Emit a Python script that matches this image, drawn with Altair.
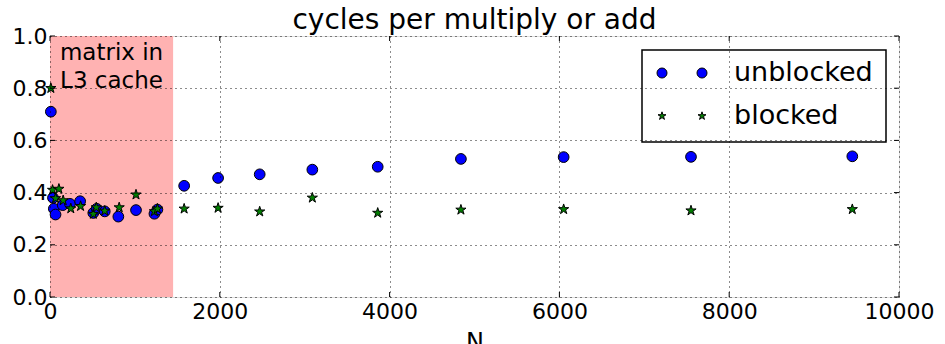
import altair as alt
import pandas as pd

# ---- data ----
N_unblocked = [10, 35, 45, 65, 150, 235, 355, 510, 550, 645, 805, 1013, 1230, 1265,
               1580, 1980, 2470, 3090, 3860, 4840, 6050, 7550, 9450]
unblocked = [0.71, 0.38, 0.338, 0.316, 0.352, 0.357, 0.367, 0.322, 0.338, 0.328, 0.308, 0.333, 0.319, 0.335,
             0.426, 0.456, 0.470, 0.488, 0.499, 0.529, 0.536, 0.537, 0.539]
N_blocked = [10, 30, 65, 105, 155, 245, 360, 510, 545, 645, 815, 1013, 1230, 1265,
             1580, 1980, 2470, 3090, 3860, 4840, 6050, 7550, 9450]
blocked = [0.80, 0.41, 0.378, 0.414, 0.370, 0.339, 0.348, 0.318, 0.343, 0.330, 0.343, 0.392, 0.328, 0.338,
           0.338, 0.341, 0.327, 0.380, 0.322, 0.334, 0.336, 0.331, 0.336]
cache_limit = [0, 1450]
x_ticks = [0, 2000, 4000, 6000, 8000, 10000]
y_ticks = [0.0, 0.2, 0.4, 0.6, 0.8, 1.0]
series_names = ["unblocked", "blocked"]
title_text = "cycles per multiply or add"
annotation = ["matrix in", "L3 cache"]

W, H = 849, 261
FONT = "DejaVu Sans"
STAR = ("M0,-1 L0.2245,-0.309 L0.951,-0.309 L0.363,0.118 L0.588,0.809 L0,0.382 "
        "L-0.588,0.809 L-0.363,0.118 L-0.951,-0.309 L-0.2245,-0.309 Z")

df_u = pd.DataFrame({"N": N_unblocked, "v": unblocked})
df_b = pd.DataFrame({"N": N_blocked, "v": blocked})
df_region = pd.DataFrame({"x0": [cache_limit[0]], "x1": [cache_limit[1]]})
df_xt = pd.DataFrame({"t": x_ticks})
df_yt = pd.DataFrame({"t": y_ticks})
df_one = pd.DataFrame({"a": [0]})

xs = alt.Scale(domain=[0, 10000], nice=False, zero=False)
ys = alt.Scale(domain=[0, 1], nice=False, zero=False)

xaxis = alt.Axis(values=x_ticks, format="d", grid=True, gridColor="black", gridDash=[1, 4],
                 gridWidth=1, gridOpacity=0.9, ticks=False, domain=False, labelFont=FONT,
                 labelFontSize=22, labelColor="black", labelPadding=4, title="N",
                 titleFont=FONT, titleFontSize=24, titleFontWeight="normal", titleColor="black",
                 titlePadding=8, zindex=1, labelFlush=False)
yaxis = alt.Axis(values=y_ticks, format=".1f", grid=True, gridColor="black", gridDash=[1, 4],
                 gridWidth=1, gridOpacity=0.9, ticks=False, domain=False, labelFont=FONT,
                 labelFontSize=22, labelColor="black", labelPadding=3, title=None, zindex=1,
                 labelFlush=False)

region = alt.Chart(df_region).mark_rect(color="#ffb2b2").encode(
    x=alt.X("x0:Q", scale=xs, axis=xaxis), x2="x1:Q",
    y=alt.value(0), y2=alt.value(H))

pts_u = alt.Chart(df_u).mark_point(shape="circle", filled=True, fill="#0000ff", stroke="black",
                                   strokeWidth=1, size=115, opacity=1).encode(
    x=alt.X("N:Q", scale=xs, axis=xaxis), y=alt.Y("v:Q", scale=ys, axis=yaxis))
pts_b = alt.Chart(df_b).mark_point(shape=STAR, filled=True, fill="#007f00", stroke="black",
                                   strokeWidth=1, size=115, opacity=1).encode(
    x=alt.X("N:Q", scale=xs, axis=xaxis), y=alt.Y("v:Q", scale=ys, axis=yaxis))

# annotation text
ann_x = (cache_limit[1] - cache_limit[0]) / 2 / 10000 * W
ann_layers = [
    alt.Chart(df_one).mark_text(text=annotation[i], font=FONT, fontSize=23, color="black",
                                align="center", baseline="middle").encode(
        x=alt.value(ann_x), y=alt.value(yy))
    for i, yy in enumerate([17, 45])
]

# inward ticks on all four sides
tick_len = 5
xt_bottom = alt.Chart(df_xt).mark_rule(color="black", strokeWidth=1).encode(
    x=alt.X("t:Q", scale=xs, axis=xaxis), y=alt.value(H), y2=alt.value(H - tick_len))
xt_top = alt.Chart(df_xt).mark_rule(color="black", strokeWidth=1).encode(
    x=alt.X("t:Q", scale=xs, axis=xaxis), y=alt.value(0), y2=alt.value(tick_len))
yt_left = alt.Chart(df_yt).mark_rule(color="black", strokeWidth=1).encode(
    y=alt.Y("t:Q", scale=ys, axis=yaxis), x=alt.value(0), x2=alt.value(tick_len))
yt_right = alt.Chart(df_yt).mark_rule(color="black", strokeWidth=1).encode(
    y=alt.Y("t:Q", scale=ys, axis=yaxis), x=alt.value(W), x2=alt.value(W - tick_len))

# manual legend (matplotlib style, two markers per entry)
LX0, LX1, LY0, LY1 = 592, 836, 14, 106
lbox = alt.Chart(df_one).mark_rect(fill="white", stroke="black", strokeWidth=1.5).encode(
    x=alt.value(LX0), x2=alt.value(LX1), y=alt.value(LY0), y2=alt.value(LY1))
leg_layers = []
for mx in (612, 652):
    leg_layers.append(alt.Chart(df_one).mark_point(
        shape="circle", filled=True, fill="#0000ff", stroke="black", strokeWidth=1, size=100,
        opacity=1).encode(x=alt.value(mx), y=alt.value(37)))
    leg_layers.append(alt.Chart(df_one).mark_point(
        shape=STAR, filled=True, fill="#007f00", stroke="black", strokeWidth=1, size=70,
        opacity=1).encode(x=alt.value(mx), y=alt.value(80)))
for name, yy in zip(series_names, [37, 80]):
    leg_layers.append(alt.Chart(df_one).mark_text(text=name, font=FONT, fontSize=27, color="black",
                                                  align="left", baseline="middle").encode(
        x=alt.value(684), y=alt.value(yy)))

chart = alt.layer(region, pts_u, pts_b, *ann_layers, xt_bottom, xt_top, yt_left, yt_right,
                  lbox, *leg_layers).properties(
    width=W, height=H,
    title=alt.Title(title_text, font=FONT, fontSize=28, fontWeight="normal", color="black",
                    anchor="middle", offset=6, dy=16),
    autosize=alt.AutoSizeParams(type="none"),
    padding={"left": 50, "top": 36, "right": 46, "bottom": 47},
).configure_view(stroke="black", strokeWidth=1.5).configure(background="white")

chart.save("out.html", embed_options={"renderer": "svg", "actions": False})
